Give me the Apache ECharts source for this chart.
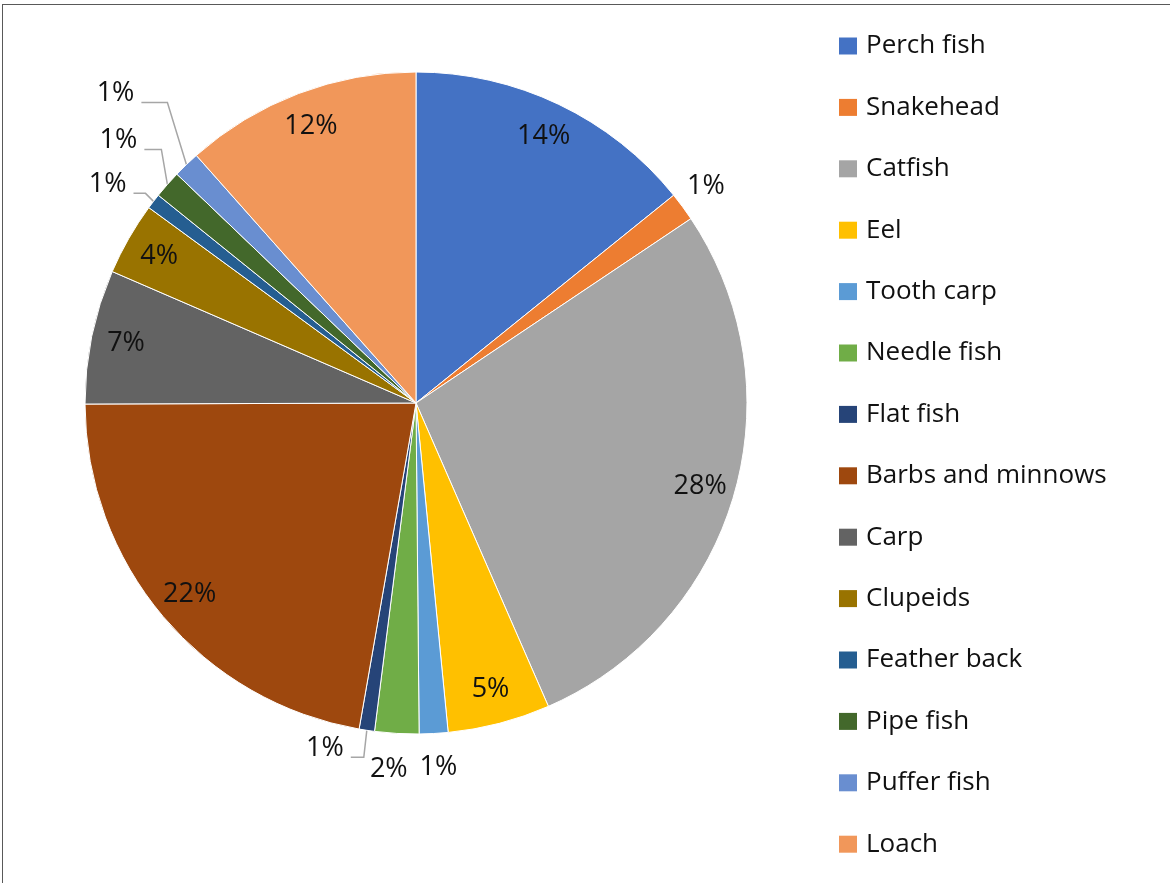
<!DOCTYPE html>
<html>
<head>
<meta charset="utf-8">
<title>Fish families</title>
<script src="https://cdn.jsdelivr.net/npm/echarts@6/dist/echarts.min.js"></script>
<style>
  html, body { margin: 0; padding: 0; background: #ffffff; }
  #frame {
    position: absolute; left: 2px; top: 4px; width: 1168px; height: 879px;
    border-top: 1px solid #595959; border-left: 1px solid #595959;
  }
  #chart { position: absolute; left: 0; top: 0; width: 1170px; height: 883px; }
</style>
</head>
<body>
<div id="frame"></div>
<div id="chart"></div>
<script>
// Share of species by fish group (%)
const categories = [
  'Perch fish', 'Snakehead', 'Catfish', 'Eel', 'Tooth carp', 'Needle fish',
  'Flat fish', 'Barbs and minnows', 'Carp', 'Clupeids', 'Feather back',
  'Pipe fish', 'Puffer fish', 'Loach'
];
const shares = [14.2, 1.4, 27.85, 5.0, 1.4, 2.15, 0.75, 22.2, 6.55, 3.55, 0.75, 1.35, 1.3, 11.55];
const colors = [
  '#4472C4', '#ED7D31', '#A5A5A5', '#FFC000', '#5B9BD5', '#70AD47',
  '#264478', '#9E480E', '#636363', '#997300', '#255E91', '#43682B',
  '#698ED0', '#F1975A'
];

// Where each percentage label sits:
// 'in' = inside, near the rim; 'edge' = just past the rim; 'leader' = pulled out with a leader line
const labelPlacement = [
  'in', 'edge', 'in', 'in', 'edge', 'edge', 'leader',
  'in', 'in', 'in', 'leader', 'leader', 'leader', 'in'
];
// Leader line shape per pulled-out label: [elbow dx, elbow dy, horizontal run]
const leaderShape = {
  6: [-3, 27, 13],
  10: [-8, -8, 12],
  11: [-6, -35, 17],
  12: [-19, -62, 26]
};
// Small sideways nudges so neighbouring rim labels do not touch: [dx, dy]
const edgeNudge = { 1: [-4, 0], 4: [3, 0], 5: [-6, 2] };

const CENTER = [416, 403];
const R = 331;
const FONT = 'Open Sans';

const pctFormatter = p => Math.round(p.percent) + '%';
const labelText = {
  fontFamily: FONT, fontSize: 27, color: '#111111',
  textBorderWidth: 0, formatter: pctFormatter
};

function itemsFor(mode, extra) {
  return categories.map((name, i) => Object.assign({
    name: name,
    value: shares[i],
    label: { show: labelPlacement[i] === mode }
  }, extra ? extra(i) : {}));
}

// Transparent ring whose sector midpoints carry the labels
function labelRing(mode, inner, outer, nudge) {
  return {
    type: 'pie',
    silent: true,
    center: CENTER,
    radius: [inner, outer],
    startAngle: 90,
    clockwise: true,
    avoidLabelOverlap: false,
    emphasis: { disabled: true },
    itemStyle: { color: 'transparent', borderWidth: 0 },
    label: Object.assign({ position: 'inside' }, labelText),
    labelLine: { show: false },
    labelLayout: nudge ? function (p) {
      const d = nudge[p.dataIndex];
      return d ? { dx: d[0], dy: d[1] } : {};
    } : undefined,
    data: itemsFor(mode)
  };
}

const chart = echarts.init(document.getElementById('chart'), null, { renderer: 'canvas' });

chart.setOption({
  animation: false,
  color: colors,
  tooltip: { show: false },
  legend: {
    orient: 'vertical',
    left: 839,
    top: 31,
    padding: 0,
    itemWidth: 18,
    itemHeight: 17,
    itemGap: 31.4,
    icon: 'rect',
    itemStyle: { borderWidth: 0 },
    textStyle: {
      fontFamily: FONT, fontSize: 26, color: '#111111',
      lineHeight: 30, padding: [0, 0, 0, 4]
    },
    data: categories
  },
  series: [
    {
      name: 'Fish groups',
      type: 'pie',
      center: CENTER,
      radius: R,
      startAngle: 90,
      clockwise: true,
      avoidLabelOverlap: false,
      emphasis: { disabled: true },
      itemStyle: { borderColor: '#ffffff', borderWidth: 1 },
      label: Object.assign({ position: 'outside' }, labelText),
      labelLine: {
        show: false, length: 10, length2: 10, smooth: false,
        lineStyle: { color: '#a6a6a6', width: 1.5 }
      },
      labelLayout: function (p) {
        const shape = leaderShape[p.dataIndex];
        if (!shape || !p.labelLinePoints) return {};
        const s = p.labelLinePoints[0];
        const elbow = [s[0] + shape[0], s[1] + shape[1]];
        const end = [elbow[0] - shape[2], elbow[1]];
        return {
          x: end[0] - 7,
          y: end[1] - 9,
          align: 'right',
          verticalAlign: 'middle',
          labelLinePoints: [s, elbow, end]
        };
      },
      data: itemsFor('leader', i => ({
        labelLine: { show: labelPlacement[i] === 'leader' }
      }))
    },
    labelRing('in', 256, 330),
    labelRing('edge', 342, 382, edgeNudge)
  ]
});
</script>
</body>
</html>
